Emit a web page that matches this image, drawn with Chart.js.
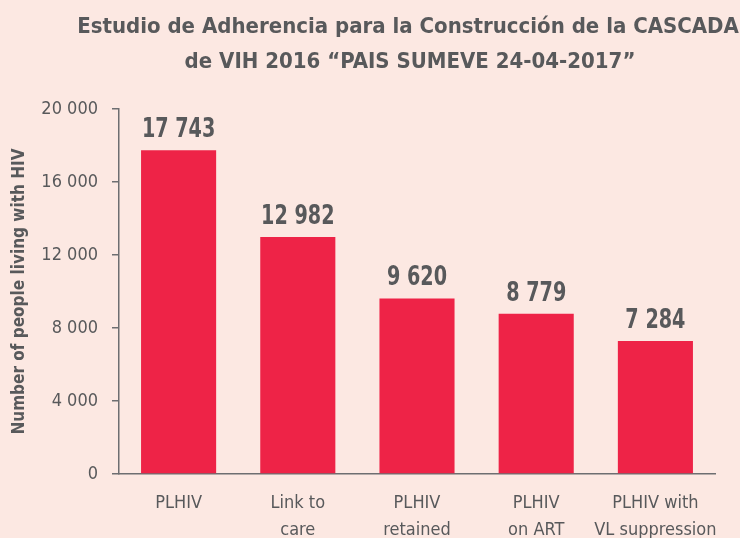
<!DOCTYPE html>
<html><head><meta charset="utf-8">
<script src="https://cdn.jsdelivr.net/npm/chart.js@4"></script>
<style>html,body{margin:0;padding:0;background:#fce8e2;overflow:hidden}#wrap{width:740px;height:538px}</style>
</head><body><div id="wrap"><canvas id="c" width="740" height="538"></canvas></div>
<script>
// ---- data ----
const titleLines = ['Estudio de Adherencia para la Construcción de la CASCADA', 'de VIH 2016 “PAIS SUMEVE 24-04-2017”'];
const categories = ['PLHIV', ['Link to', 'care'], ['PLHIV', 'retained'], ['PLHIV', 'on ART'], ['PLHIV with', 'VL suppression']];
const values = [17743, 12982, 9620, 8779, 7284];
const yTicks = [0, 4000, 8000, 12000, 16000, 20000];
const yTitle = 'Number of people living with HIV';

// ---- styles ----
const BG = '#fce8e2', BAR = '#ee2347', TXT = '#58595b', AXIS = '#6d6e71';
const FONT = '"DejaVu Sans Condensed", "DejaVu Sans", sans-serif';
const fmt = v => String(v).replace(/\B(?=(\d{3})+(?!\d))/g, ' ');

const bgPlugin = {
  id: 'bg',
  beforeDraw(chart) {
    const ctx = chart.ctx; ctx.save(); ctx.fillStyle = BG; ctx.fillRect(0, 0, chart.width, chart.height); ctx.restore();
  }
};
const titlePlugin = {
  id: 'ttl',
  afterDraw(chart) {
    const ctx = chart.ctx; ctx.save();
    ctx.font = 'bold 22px ' + FONT; ctx.fillStyle = TXT; ctx.textAlign = 'center'; ctx.textBaseline = 'middle';
    ctx.fillText(titleLines[0], 408, 27);
    ctx.fillText(titleLines[1], 410, 62);
    ctx.restore();
  }
};
const labelPlugin = {
  id: 'vals',
  afterDatasetsDraw(chart) {
    const ctx = chart.ctx;
    chart.getDatasetMeta(0).data.forEach((bar, i) => {
      ctx.save();
      ctx.font = 'bold 26px ' + FONT; ctx.fillStyle = TXT; ctx.textAlign = 'center'; ctx.textBaseline = 'alphabetic';
      ctx.translate(bar.x, bar.y - 13);
      ctx.scale(0.82, 1);
      ctx.fillText(fmt(values[i]), 0, 0);
      ctx.restore();
    });
  }
};

new Chart(document.getElementById('c'), {
  type: 'bar',
  data: { labels: categories, datasets: [{ data: values, backgroundColor: BAR, borderWidth: 0, barPercentage: 0.63, categoryPercentage: 1 }] },
  options: {
    responsive: false, animation: false, devicePixelRatio: 1,
    layout: { padding: { top: 109, right: 25, bottom: 0, left: 0 } },
    plugins: { legend: { display: false }, tooltip: { enabled: false }, title: { display: false } },
    scales: {
      x: {
        grid: { display: false },
        border: { display: true, color: AXIS, width: 1.5 },
        ticks: { color: TXT, font: { family: FONT, size: 18, lineHeight: 1.5 }, padding: 8, maxRotation: 0, autoSkip: false },
        afterFit(s) { s.height = 64; }
      },
      y: {
        min: 0, max: 20000,
        afterBuildTicks(s) { s.ticks = yTicks.map(v => ({ value: v })); },
        grid: { drawOnChartArea: false, drawTicks: true, tickLength: 7, color: AXIS, lineWidth: 1.5 },
        border: { display: true, color: AXIS, width: 1.5 },
        ticks: { color: TXT, font: { family: FONT, size: 18 }, padding: 14, callback: v => fmt(v) },
        title: { display: true, text: yTitle, color: TXT, font: { family: FONT, size: 17, weight: 'bold', lineHeight: 1.2 }, padding: { top: 9, bottom: 0 } },
        afterFit(s) { s.width = 119; }
      }
    }
  },
  plugins: [bgPlugin, titlePlugin, labelPlugin]
});
</script></body></html>
